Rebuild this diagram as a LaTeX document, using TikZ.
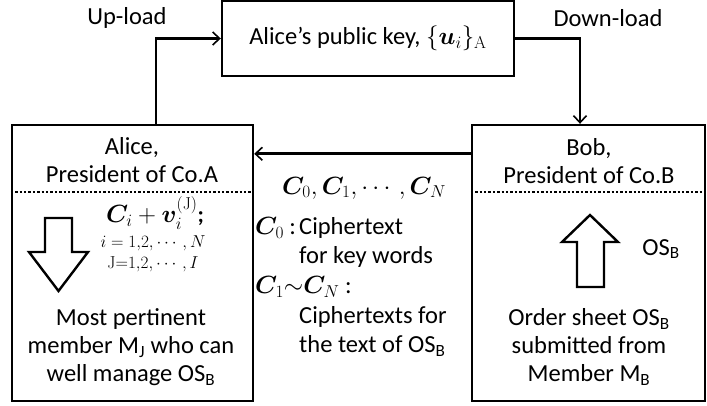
\documentclass[tikz,border=0pt]{standalone}
\usepackage{amsmath}
\usepackage{bm}
\usepackage[no-math]{fontspec}
\setmainfont{Carlito}
\usetikzlibrary{arrows.meta, positioning, calc}

\begin{document}
\begin{tikzpicture}[
  x=1pt, y=-1pt,
  box/.style={rectangle, draw, line width=2.4pt, inner sep=0pt},
  txt/.style={font=\fontsize{24.5}{28}\selectfont, align=center, inner sep=0pt},
  math/.style={font=\fontsize{23}{26}\selectfont, inner sep=0pt},
  small/.style={font=\fontsize{17}{20}\selectfont, inner sep=0pt},
  arr/.style={-{Straight Barb[length=7pt, width=13pt, line width=1.6pt]}, line width=2.8pt},
  hollow/.style={draw, line width=2.4pt, line join=miter, fill=white},
  sep/.style={line width=2.4pt, dotted}
]
\useasboundingbox (0,0) rectangle (707,405);

% boxes
\node[box, minimum width=292pt, minimum height=75pt] (key) at (368,38.5)
  {\fontsize{24.5}{28}\selectfont Alice's public key, {\fontsize{27}{30}\selectfont$\{\bm{u}_i\}_{\mathrm{A}}$}};
\node[box, minimum width=241pt, minimum height=276pt] (alice) at (132.5,263) {};
\node[box, minimum width=233pt, minimum height=276pt] (bob)   at (588.5,263) {};

% headers
\node[txt] (aname) at (132,160) {Alice,\\President of Co.A};
\node[txt] (bname) at (589,161) {Bob,\\President of Co.B};
\draw[sep] ([yshift=-68]alice.north west) -- ([yshift=-68]alice.north east);
\draw[sep] ([yshift=-68]bob.north west) -- ([yshift=-68]bob.north east);

% connectors
\draw[arr] ([xshift=23.5]alice.north) |- (key.west);
\draw[arr] (key.east) -| ([xshift=-8.5]bob.north);
\draw[arr] ([yshift=-30]bob.north west) -- ([yshift=-30]alice.north east);
\node[txt] (up)   at (127,18) {Up-load};
\node[txt] (down) at (608,18) {Down-load};

% Alice side
\node[math] (sum) at (155,213) {$\bm{C}_i+\bm{v}_i^{(\mathrm{J})}$\textbf{;}};
\node[small] (irange) at (153,243) {$i=1{,}2,\cdots,N$};
\node[small] (jrange) at (153,264) {$\mathrm{J}{=}1{,}2,\cdots,I$};
\draw[hollow] (45,218) -- (72,218) -- (72,252) -- (88,252) -- (58.5,291)
  -- (29,252) -- (45,252) -- cycle;
\node[txt] (best) at (131,347) {Most pertinent\\member M\textsubscript{J} who can\\well manage OS\textsubscript{B}};

% middle
\node[math] (cset) at (364,188) {$\bm{C}_0,\bm{C}_1,\cdots,\bm{C}_N$};
\node[txt, anchor=west] (c0)  at (255,228) {$\bm{C}_0$ :};
\node[txt, anchor=west] (c0a) at (299,228) {Ciphertext};
\node[txt, anchor=west] (c0b) at (299,257) {for key words};
\node[txt, anchor=west] (cn)  at (255,287) {$\bm{C}_1{\sim}\bm{C}_N$ :};
\node[txt, anchor=west] (cnb) at (299,317) {Ciphertexts for};
\node[txt, anchor=west] (cnc) at (299,346) {the text of OS\textsubscript{B}};

% Bob side
\draw[hollow] (577,287) -- (604,287) -- (604,242) -- (618,242) -- (590,215)
  -- (562,242) -- (577,242) -- cycle;
\node[txt] (osb) at (661,249) {OS\textsubscript{B}};
\node[txt] (order) at (589,347) {Order sheet OS\textsubscript{B}\\submitted from\\Member M\textsubscript{B}};
\end{tikzpicture}
\end{document}
